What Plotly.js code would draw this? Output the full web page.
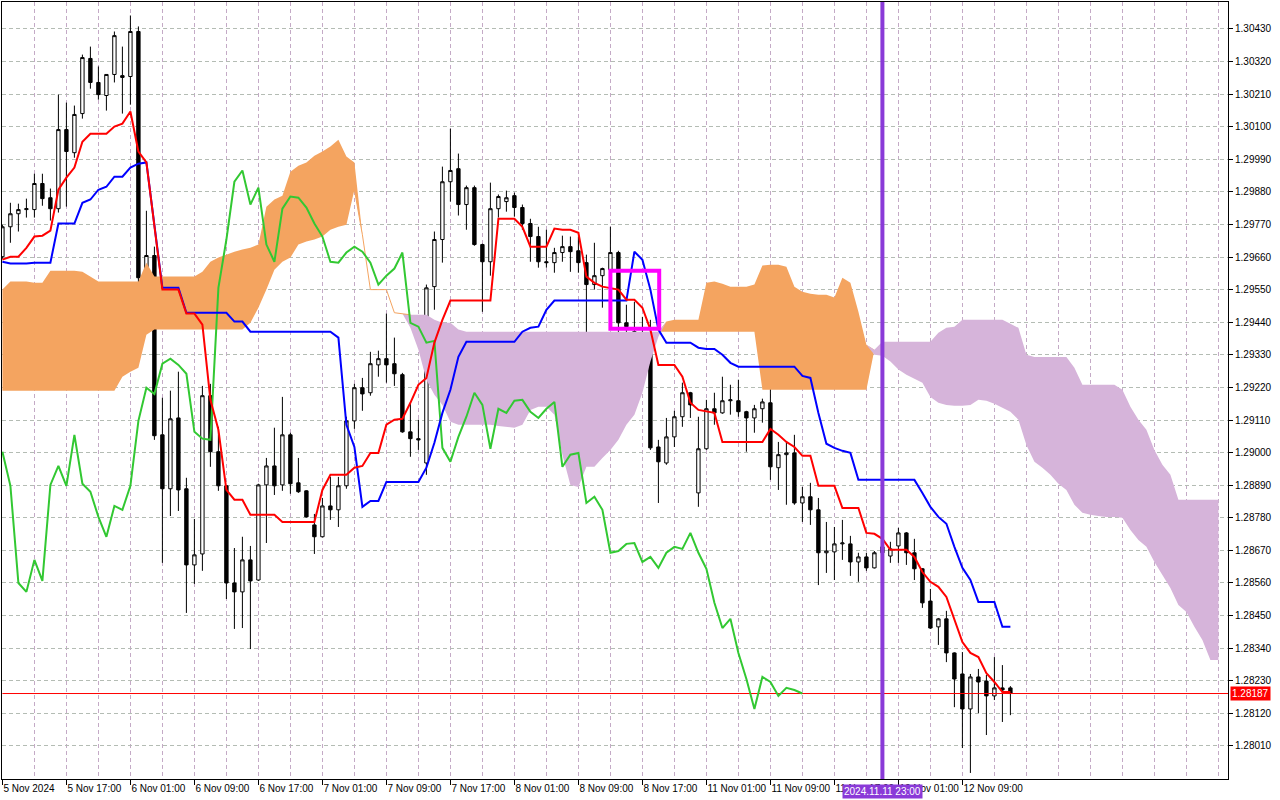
<!DOCTYPE html>
<html><head><meta charset="utf-8">
<script src="https://cdn.plot.ly/plotly-3.0.1.min.js"></script>
<style>html,body{margin:0;padding:0;background:#fff;}#chart{width:1280px;height:800px;}</style>
</head><body><div id="chart"></div>
<script>
// ---- data (GBPUSD H1 with Ichimoku), one entry per bar ----
const xLabels = ["5 Nov 2024","5 Nov 17:00","6 Nov 01:00","6 Nov 09:00","6 Nov 17:00","7 Nov 01:00","7 Nov 09:00","7 Nov 17:00","8 Nov 01:00","8 Nov 09:00","8 Nov 17:00","11 Nov 01:00","11 Nov 09:00","11 Nov 17:00","12 Nov 01:00","12 Nov 09:00"];

const opens = [1.29661,1.29762,1.29806,1.29820,1.29820,1.29908,1.29860,1.29823,1.30090,1.30012,
1.30144,1.30330,1.30249,1.30205,1.30276,1.30272,1.30269,1.30421,1.29594,1.29665,
1.29060,1.28878,1.29117,1.28878,1.28621,1.28658,1.29192,1.29003,1.28888,1.28560,
1.28530,1.28638,1.28570,1.28891,1.28955,1.28891,1.29060,1.28898,1.28871,1.28756,
1.28716,1.28820,1.28807,1.28888,1.29107,1.29219,1.29202,1.29296,1.29317,1.29300,
1.29263,1.29070,1.29047,1.28965,1.29560,1.29719,1.29914,1.29958,1.29837,1.29894,
1.29702,1.29644,1.29823,1.29847,1.29867,1.29827,1.29773,1.29729,1.29644,1.29641,
1.29675,1.29695,1.29681,1.29641,1.29567,1.29597,1.29617,1.29675,1.29438,1.29408,
1.29367,1.29374,1.29019,1.28965,1.29053,1.29121,1.29202,1.28864,1.29013,1.29148,
1.29134,1.29175,1.29175,1.29138,1.29117,1.29148,1.29168,1.28949,1.28993,1.28999,
1.28830,1.28851,1.28807,1.28662,1.28665,1.28692,1.28692,1.28631,1.28648,1.28611,
1.28662,1.28651,1.28685,1.28729,1.28662,1.28608,1.28499,1.28412,1.28439,1.28324,
1.28253,1.28135,1.28243,1.28229,1.28179,1.28206,1.28206];

const highs = [1.29769,1.29843,1.29840,1.29857,1.29941,1.29941,1.29891,1.30208,1.30181,1.30171,
1.30343,1.30370,1.30303,1.30276,1.30421,1.30370,1.30475,1.30438,1.29816,1.29695,
1.29185,1.29209,1.29273,1.28915,1.28776,1.29225,1.29232,1.29087,1.28890,1.28678,
1.28716,1.28685,1.28895,1.28982,1.29084,1.29188,1.29067,1.28982,1.28873,1.28793,
1.28847,1.28918,1.28918,1.29121,1.29232,1.29252,1.29340,1.29344,1.29469,1.29388,
1.29269,1.29165,1.29111,1.29567,1.29746,1.29965,1.30093,1.30009,1.29901,1.29901,
1.29705,1.29911,1.29871,1.29884,1.29877,1.29837,1.29789,1.29762,1.29752,1.29691,
1.29732,1.29729,1.29729,1.29668,1.29708,1.29624,1.29762,1.29681,1.29499,1.29509,
1.29458,1.29448,1.29043,1.29117,1.29141,1.29236,1.29205,1.29121,1.29178,1.29202,
1.29256,1.29229,1.29246,1.29141,1.29161,1.29182,1.29222,1.29036,1.29033,1.29060,
1.28884,1.28898,1.28847,1.28766,1.28749,1.28773,1.28719,1.28662,1.28662,1.28668,
1.28689,1.28699,1.28746,1.28732,1.28709,1.28610,1.28540,1.28442,1.28466,1.28326,
1.28327,1.28253,1.28270,1.28250,1.28310,1.28283,1.28212];

const lows = [1.29654,1.29708,1.29746,1.29793,1.29793,1.29833,1.29783,1.29810,1.29830,1.29995,
1.30127,1.30228,1.30191,1.30154,1.30249,1.30144,1.30174,1.29570,1.29486,1.29043,
1.28628,1.28786,1.28803,1.28459,1.28557,1.28601,1.28952,1.28871,1.28506,1.28405,
1.28408,1.28337,1.28567,1.28695,1.28857,1.28871,1.28861,1.28864,1.28781,1.28658,
1.28714,1.28773,1.28749,1.28878,1.29080,1.29141,1.29192,1.29256,1.29236,1.29225,
1.29067,1.28986,1.29009,1.28925,1.29482,1.29641,1.29847,1.29800,1.29752,1.29698,
1.29475,1.29597,1.29793,1.29813,1.29796,1.29752,1.29644,1.29624,1.29624,1.29607,
1.29644,1.29610,1.29607,1.29347,1.29550,1.29489,1.29509,1.29374,1.29273,1.29320,
1.29219,1.29009,1.28830,1.28959,1.29019,1.29087,1.29117,1.28817,1.29009,1.29094,
1.29131,1.29128,1.29121,1.29003,1.29067,1.29101,1.28908,1.28874,1.28824,1.28824,
1.28766,1.28756,1.28553,1.28594,1.28570,1.28638,1.28584,1.28564,1.28601,1.28609,
1.28638,1.28628,1.28628,1.28621,1.28570,1.28476,1.28405,1.28351,1.28293,1.28141,
1.28003,1.27919,1.28121,1.28047,1.28165,1.28091,1.28114];

const closes = [1.29762,1.29806,1.29820,1.29823,1.29908,1.29857,1.29823,1.30090,1.30016,1.30141,
1.30333,1.30249,1.30208,1.30276,1.30407,1.30266,1.30421,1.29590,1.29665,1.29057,
1.28878,1.29114,1.28874,1.28621,1.28655,1.29192,1.29003,1.28888,1.28560,1.28530,
1.28638,1.28567,1.28891,1.28955,1.28888,1.29060,1.28895,1.28868,1.28783,1.28716,
1.28820,1.28807,1.28888,1.29107,1.29219,1.29198,1.29300,1.29317,1.29296,1.29266,
1.29070,1.29047,1.29043,1.29556,1.29719,1.29914,1.29952,1.29837,1.29894,1.29702,
1.29644,1.29823,1.29864,1.29860,1.29827,1.29773,1.29729,1.29644,1.29641,1.29675,
1.29695,1.29678,1.29641,1.29567,1.29597,1.29621,1.29675,1.29438,1.29425,1.29371,
1.29377,1.29016,1.28969,1.29053,1.29121,1.29202,1.29161,1.29013,1.29148,1.29134,
1.29175,1.29178,1.29138,1.29117,1.29148,1.29171,1.28952,1.28993,1.28999,1.28830,
1.28851,1.28807,1.28662,1.28668,1.28692,1.28695,1.28631,1.28648,1.28611,1.28662,
1.28682,1.28675,1.28729,1.28662,1.28608,1.28493,1.28408,1.28439,1.28324,1.28236,
1.28135,1.28243,1.28226,1.28179,1.28206,1.28199,1.28187];

const tenkan = [1.29651,1.29661,1.29661,1.29691,1.29729,1.29732,1.29749,1.29887,1.29928,1.29962,
1.30049,1.30076,1.30076,1.30076,1.30100,1.30110,1.30151,1.30016,1.29979,1.29759,
1.29550,1.29550,1.29550,1.29469,1.29469,1.29432,1.29178,1.29077,1.28874,1.28841,
1.28841,1.28790,1.28790,1.28790,1.28790,1.28766,1.28766,1.28766,1.28766,1.28766,
1.28874,1.28925,1.28925,1.28925,1.28949,1.28955,1.28999,1.28999,1.29094,1.29111,
1.29114,1.29168,1.29229,1.29252,1.29371,1.29448,1.29513,1.29513,1.29513,1.29513,
1.29513,1.29513,1.29789,1.29789,1.29789,1.29762,1.29695,1.29695,1.29695,1.29756,
1.29752,1.29752,1.29742,1.29594,1.29573,1.29560,1.29556,1.29550,1.29516,1.29516,
1.29489,1.29415,1.29296,1.29296,1.29296,1.29256,1.29168,1.29144,1.29138,1.29134,
1.29036,1.29036,1.29036,1.29036,1.29036,1.29036,1.29080,1.29060,1.29036,1.29019,
1.28989,1.28989,1.28888,1.28888,1.28888,1.28813,1.28813,1.28813,1.28729,1.28726,
1.28709,1.28672,1.28672,1.28672,1.28648,1.28597,1.28564,1.28547,1.28513,1.28435,
1.28361,1.28324,1.28310,1.28256,1.28226,1.28192,1.28192];

const kijun = [1.29644,1.29638,1.29638,1.29638,1.29641,1.29641,1.29641,1.29773,1.29773,1.29773,
1.29843,1.29854,1.29887,1.29897,1.29931,1.29931,1.29962,1.29975,1.29979,1.29769,
1.29556,1.29556,1.29556,1.29472,1.29472,1.29472,1.29472,1.29472,1.29472,1.29442,
1.29442,1.29408,1.29408,1.29408,1.29408,1.29408,1.29408,1.29408,1.29408,1.29408,
1.29408,1.29408,1.29388,1.29094,1.29019,1.28817,1.28837,1.28837,1.28901,1.28901,
1.28901,1.28901,1.28901,1.28949,1.29033,1.29134,1.29212,1.29323,1.29374,1.29374,
1.29374,1.29374,1.29374,1.29374,1.29374,1.29408,1.29421,1.29425,1.29482,1.29513,
1.29513,1.29513,1.29513,1.29513,1.29513,1.29513,1.29513,1.29513,1.29513,1.29678,
1.29651,1.29550,1.29415,1.29371,1.29371,1.29371,1.29371,1.29354,1.29350,1.29350,
1.29330,1.29303,1.29290,1.29290,1.29290,1.29290,1.29290,1.29290,1.29290,1.29290,
1.29259,1.29252,1.29134,1.29030,1.29016,1.29006,1.28999,1.28908,1.28908,1.28908,
1.28908,1.28908,1.28908,1.28908,1.28908,1.28864,1.28817,1.28783,1.28760,1.28682,
1.28611,1.28570,1.28496,1.28496,1.28496,1.28412,1.28412];

const chikou = [1.29003,1.28888,1.28560,1.28530,1.28638,1.28567,1.28891,1.28955,1.28888,1.29060,
1.28895,1.28868,1.28783,1.28716,1.28820,1.28807,1.28888,1.29107,1.29219,1.29198,
1.29300,1.29317,1.29296,1.29266,1.29070,1.29047,1.29043,1.29556,1.29719,1.29914,
1.29952,1.29837,1.29894,1.29702,1.29644,1.29823,1.29864,1.29860,1.29827,1.29773,
1.29729,1.29644,1.29641,1.29675,1.29695,1.29678,1.29641,1.29567,1.29597,1.29621,
1.29675,1.29438,1.29425,1.29371,1.29377,1.29016,1.28969,1.29053,1.29121,1.29202,
1.29161,1.29013,1.29148,1.29134,1.29175,1.29178,1.29138,1.29117,1.29148,1.29171,
1.28952,1.28993,1.28999,1.28830,1.28851,1.28807,1.28662,1.28668,1.28692,1.28695,
1.28631,1.28648,1.28611,1.28662,1.28682,1.28675,1.28729,1.28662,1.28608,1.28493,
1.28408,1.28439,1.28324,1.28236,1.28135,1.28243,1.28226,1.28179,1.28206,1.28199,
1.28187];

const spanA = [1.29550,1.29577,1.29577,1.29577,1.29573,1.29573,1.29614,1.29614,1.29614,1.29614,
1.29610,1.29594,1.29577,1.29577,1.29577,1.29577,1.29577,1.29577,1.29641,1.29594,
1.29594,1.29594,1.29594,1.29594,1.29594,1.29610,1.29644,1.29658,1.29668,1.29678,
1.29685,1.29691,1.29702,1.29830,1.29854,1.29867,1.29948,1.29968,1.29979,1.30002,
1.30016,1.30033,1.30056,1.29999,1.29979,1.29735,1.29550,1.29550,1.29550,1.29472,
1.29469,1.29421,1.29347,1.29246,1.29195,1.29161,1.29104,1.29094,1.29094,1.29094,
1.29094,1.29094,1.29090,1.29087,1.29084,1.29094,1.29144,1.29155,1.29155,1.29128,
1.28993,1.28891,1.28884,1.28952,1.28952,1.28982,1.29009,1.29043,1.29094,1.29128,
1.29202,1.29307,1.29391,1.29442,1.29448,1.29448,1.29448,1.29448,1.29573,1.29577,
1.29570,1.29560,1.29560,1.29560,1.29567,1.29631,1.29634,1.29634,1.29627,1.29560,
1.29543,1.29536,1.29533,1.29533,1.29523,1.29590,1.29573,1.29475,1.29364,1.29330,
1.29327,1.29307,1.29280,1.29263,1.29249,1.29236,1.29188,1.29168,1.29161,1.29158,
1.29158,1.29161,1.29178,1.29175,1.29165,1.29151,1.29138,1.29111,1.29026,1.28969,
1.28949,1.28925,1.28895,1.28874,1.28824,1.28797,1.28790,1.28786,1.28783,1.28783,
1.28780,1.28739,1.28705,1.28682,1.28631,1.28587,1.28543,1.28486,1.28462,1.28412,
1.28368,1.28300,1.28300];

const spanB = [1.29209,1.29209,1.29209,1.29209,1.29209,1.29209,1.29209,1.29209,1.29209,1.29209,
1.29209,1.29209,1.29209,1.29209,1.29209,1.29256,1.29273,1.29286,1.29398,1.29415,
1.29415,1.29415,1.29415,1.29415,1.29415,1.29415,1.29415,1.29415,1.29415,1.29415,
1.29415,1.29438,1.29489,1.29550,1.29617,1.29644,1.29658,1.29702,1.29712,1.29719,
1.29729,1.29752,1.29762,1.29769,1.29887,1.29735,1.29550,1.29550,1.29550,1.29472,
1.29469,1.29465,1.29465,1.29465,1.29448,1.29438,1.29438,1.29415,1.29408,1.29408,
1.29408,1.29408,1.29408,1.29408,1.29408,1.29408,1.29408,1.29408,1.29408,1.29408,
1.29408,1.29408,1.29408,1.29408,1.29408,1.29408,1.29408,1.29408,1.29408,1.29408,
1.29408,1.29408,1.29408,1.29408,1.29408,1.29408,1.29408,1.29408,1.29408,1.29408,
1.29408,1.29408,1.29408,1.29408,1.29408,1.29212,1.29212,1.29212,1.29212,1.29212,
1.29212,1.29212,1.29212,1.29212,1.29212,1.29212,1.29212,1.29212,1.29212,1.29347,
1.29374,1.29374,1.29374,1.29374,1.29374,1.29374,1.29374,1.29404,1.29421,1.29425,
1.29448,1.29448,1.29448,1.29448,1.29448,1.29448,1.29435,1.29421,1.29330,1.29323,
1.29323,1.29323,1.29323,1.29323,1.29286,1.29229,1.29229,1.29229,1.29229,1.29229,
1.29212,1.29155,1.29111,1.29077,1.29009,1.28959,1.28925,1.28841,1.28841,1.28841,
1.28841,1.28841,1.28841];

const lastPrice = 1.28187;
const markerBar = 110;            // vertical line: 2024.11.11 23:00
const markerLabel = "2024.11.11 23:00";
const boxBars = [76, 82.1];       // highlighted rectangle
const boxPrices = [1.29418, 1.29614];

// ---- build ----
const FONT = "Liberation Sans, Arial, sans-serif";
const bars = opens.map((_, i) => i);
const cloudBars = spanA.map((_, i) => i);
const chikouBars = chikou.map((_, i) => i);
const upper = spanA.map((a, i) => Math.max(a, spanB[i]));
const same = j => j >= 0 && j < spanA.length && Math.abs(spanA[j] - spanB[j]) < 1e-7;
const thinEdge = spanB.map((b, i) => (same(i) || same(i - 1) || same(i + 1)) ? b : null);

const noLine = {width: 0};
const traces = [
  {x: cloudBars, y: spanB, mode: 'lines', line: noLine, hoverinfo: 'skip'},
  {x: cloudBars, y: upper, mode: 'lines', line: noLine, fill: 'tonexty', fillcolor: '#F4A460', hoverinfo: 'skip'},
  {x: cloudBars, y: spanA, mode: 'lines', line: noLine, hoverinfo: 'skip'},
  {x: cloudBars, y: upper, mode: 'lines', line: noLine, fill: 'tonexty', fillcolor: '#D6B4DA', hoverinfo: 'skip'},
  {x: cloudBars, y: thinEdge, mode: 'lines', line: {color: '#F4A460', width: 1}, connectgaps: false, hoverinfo: 'skip'},
  {x: [0, 153.2], y: [lastPrice, lastPrice], mode: 'lines', line: {color: '#FF0000', width: 1}, hoverinfo: 'skip'},
  {type: 'candlestick', x: bars, open: opens, high: highs, low: lows, close: closes,
   increasing: {line: {color: '#000', width: 1}, fillcolor: '#FFFFFF'},
   decreasing: {line: {color: '#000', width: 1}, fillcolor: '#000000'},
   whiskerwidth: 0, hoverinfo: 'skip'},
  {x: chikouBars, y: chikou, mode: 'lines', line: {color: '#32C832', width: 2}, hoverinfo: 'skip'},
  {x: bars, y: kijun, mode: 'lines', line: {color: '#0000FF', width: 2}, hoverinfo: 'skip'},
  {x: bars, y: tenkan, mode: 'lines', line: {color: '#FF0000', width: 2}, hoverinfo: 'skip'}
];

const yTicks = [];
for (let i = 0; i <= 22; i++) yTicks.push(+(1.28010 + i * 0.0011).toFixed(5));
const xTicks = xLabels.map((_, i) => i * 8);
const gridBars = [];
for (let b = 0; b <= 152; b += 4) gridBars.push(b);

const layout = {
  width: 1280, height: 800,
  margin: {l: 2, r: 52, t: 2, b: 21, pad: 0},
  paper_bgcolor: '#FFFFFF', plot_bgcolor: '#FFFFFF',
  showlegend: false, hovermode: false, boxgap: 0.4,
  font: {family: FONT, size: 10, color: '#000'},
  xaxis: {
    range: [-0.05, 153.2], fixedrange: true, zeroline: false, automargin: false,
    rangeslider: {visible: false},
    tickmode: 'array', tickvals: xTicks, ticktext: xLabels, tickangle: 0,
    ticks: 'outside', ticklen: 5, tickcolor: '#000', tickwidth: 1,
    ticklabelposition: 'outside right',
    tickfont: {family: FONT, size: 10, color: '#000'},
    showgrid: true, gridcolor: '#C4AAC6', griddash: '4px,3px', gridwidth: 1,
    minor: {tickmode: 'array', tickvals: gridBars, showgrid: true, gridcolor: '#C4AAC6', griddash: '4px,3px', gridwidth: 1, ticks: ''},
    showline: true, mirror: true, linecolor: '#000', linewidth: 1
  },
  yaxis: {
    side: 'right', range: [1.278986, 1.305205], fixedrange: true, zeroline: false, automargin: false,
    tickmode: 'array', tickvals: yTicks, ticktext: yTicks.map(v => v.toFixed(5)),
    ticks: 'outside', ticklen: 4, tickcolor: '#000', tickwidth: 1,
    tickfont: {family: FONT, size: 10, color: '#000'},
    showgrid: true, gridcolor: '#B4BCB4', griddash: '4px,3px', gridwidth: 1,
    showline: true, mirror: true, linecolor: '#000', linewidth: 1
  },
  shapes: [
    {type: 'rect', xref: 'x', yref: 'y', x0: boxBars[0], x1: boxBars[1], y0: boxPrices[0], y1: boxPrices[1],
     line: {color: '#FF00FF', width: 4}, fillcolor: 'rgba(0,0,0,0)'},
    {type: 'line', xref: 'x', yref: 'paper', x0: markerBar, x1: markerBar, y0: 0, y1: 1, line: {color: '#8A3AD8', width: 4}}
  ],
  annotations: [
    {xref: 'paper', x: 1, xanchor: 'left', xshift: 2, yref: 'y', y: lastPrice, yanchor: 'middle',
     text: lastPrice.toFixed(5), showarrow: false, bgcolor: '#FF0000', borderpad: 1,
     font: {family: FONT, size: 10, color: '#FFFFFF'}},
    {xref: 'x', x: markerBar, xanchor: 'center', yref: 'paper', y: 0, yanchor: 'top', yshift: -5,
     text: markerLabel, showarrow: false, bgcolor: '#8A3AD8', borderpad: 1,
     font: {family: FONT, size: 10, color: '#FFFFFF'}}
  ]
};

Plotly.newPlot('chart', traces, layout, {displayModeBar: false, staticPlot: true});
</script>
</body></html>
